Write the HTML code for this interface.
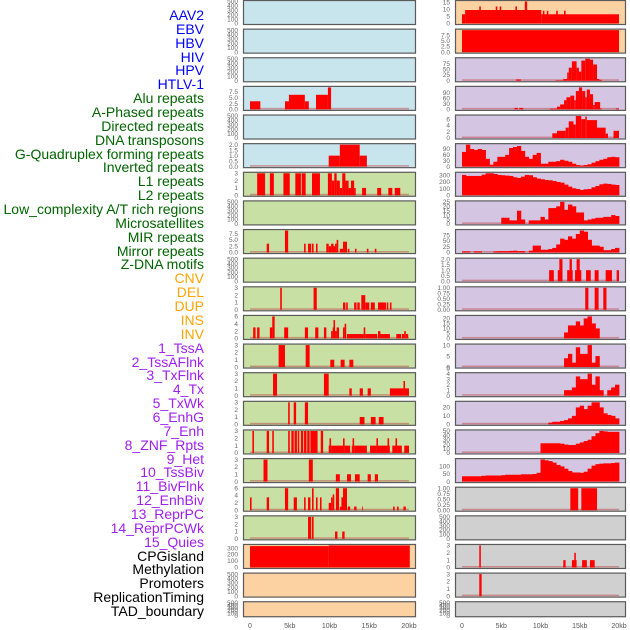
<!DOCTYPE html>
<html><head><meta charset="utf-8">
<style>
html,body{margin:0;padding:0;background:#fff;width:630px;height:630px;overflow:hidden}
#lbls{position:absolute;left:0;top:0;width:204px;height:630px}
.lb{position:absolute;right:0;font-family:"Liberation Sans",Arial,sans-serif;font-size:14px;line-height:14px;white-space:nowrap}
svg{position:absolute;left:0;top:0}
</style></head><body>
<div id="lbls"></div>
<svg id="chart" width="630" height="630"></svg>
<script>
const panelNames=["AAV2","EBV","HBV","HIV","HPV","HTLV-1","Alu repeats","A-Phased repeats","Directed repeats","DNA transposons","G-Quadruplex forming repeats","Inverted repeats","L1 repeats","L2 repeats","Low_complexity A/T rich regions","Microsatellites","MIR repeats","Mirror repeats","Z-DNA motifs","CNV","DEL","DUP","INS","INV","1_TssA","2_TssAFlnk","3_TxFlnk","4_Tx","5_TxWk","6_EnhG","7_Enh","8_ZNF_Rpts","9_Het","10_TssBiv","11_BivFlnk","12_EnhBiv","13_ReprPC","14_ReprPCWk","15_Quies","CPGisland","Methylation","Promoters","ReplicationTiming","TAD_boundary"];
const panelGroups=["virus","virus","virus","virus","virus","virus","repeat","repeat","repeat","repeat","repeat","repeat","repeat","repeat","repeat","repeat","repeat","repeat","repeat","sv","sv","sv","sv","sv","chrom","chrom","chrom","chrom","chrom","chrom","chrom","chrom","chrom","chrom","chrom","chrom","chrom","chrom","chrom","other","other","other","other","other"];
const E=["0","100","200","300","400","500"], T3=["0","1","2","3"], T6=["0","2","4","6"], T25=["0.0","2.5","5.0","7.5"], Tq=["0.00","0.25","0.50","0.75","1.00"];
const panelTicks=[E,E,E,T25,E,["0.0","0.5","1.0","1.5","2.0"],T3,E,T25,E,T3,T6,T3,T3,T3,T3,T3,T6,T3,["0","100","200","300"],E,E,
["0","5","10","15"],T25,["0","25","50","75"],["0","30","60","90"],T6,["0","30","60","90"],["0","100","200","300"],["0","5","10","15","20","25"],["0","25","50","75"],["0.0","0.5","1.0","1.5","2.0"],Tq,["0","5","10","15","20"],["0","5","10"],["0","1","2","3","4","5"],["0","10","20"],["0","10","20","30","40","50"],["0","50","100"],Tq,E,T3,T3,E];
const panelSegments=[null,null,null,
[[0,1.3,3.5],[4.4,4.9,3.5],[4.9,6.9,6.3],[6.9,7.4,3.5],[8.3,9.8,6.3],[9.8,10.2,9.5]],
null,
[[9.9,11.3,1],[11.3,13.8,2],[13.8,14.7,1]],
[[0.9,1.9,3],[2.5,3.0,3],[4.2,5.0,3],[5.7,6.4,3],[6.5,7.0,3],[7.8,8.8,3],[9.8,10.3,3],[10.3,10.6,2],[10.6,10.9,3],[10.9,11.3,2],[11.3,11.6,1],[11.6,12.0,3],[12.0,12.4,2],[12.4,12.7,1],[12.7,13.1,2],[13.1,13.3,1],[14.1,14.6,1],[16.0,16.5,1],[17.4,17.9,1],[18.2,18.9,1]],
null,
[[2.1,2.4,3.5],[4.4,4.8,8.7],[6.8,7.0,3.5],[7.3,7.7,3.5],[7.8,8.0,3.5],[8.3,8.5,3.5],[9.6,9.9,3.5],[9.9,10.2,2.5],[10.2,10.5,3.5],[10.5,10.7,2.5],[10.7,10.9,3.5],[10.9,11.1,5],[11.3,11.7,1.5],[11.7,12.2,4.3],[12.3,12.5,1.5],[13.2,13.4,1.5],[14.7,14.9,1.5],[15.7,15.9,1.5]],
null,
[[3.8,4.0,3],[8.0,8.4,3],[11.7,12.0,1],[12.1,12.3,1],[13.1,13.4,1],[13.5,13.8,1],[14.0,14.5,2],[14.5,15.0,1],[15.2,15.7,1],[16.1,17.1,1],[17.2,17.4,1],[17.6,17.8,1]],
[[0.4,0.7,3],[0.9,1.2,3],[2.5,2.8,3],[2.8,3.1,6],[4.3,4.8,3],[6.9,7.3,3],[8.2,8.6,3],[9.3,9.6,3],[10.2,10.4,2],[10.4,10.5,3],[10.5,10.7,5],[10.7,10.9,2],[10.9,11.2,3],[11.7,11.9,3],[11.9,12.1,4],[12.2,14.3,1.2],[14.3,14.5,3],[14.5,16.0,1.2],[16.1,16.4,2],[16.4,17.6,1.2],[18.4,19.0,1.2],[19.1,19.4,1.2],[19.4,19.6,2],[19.6,19.9,1.2]],
[[3.6,4.4,3],[7.0,7.5,3],[10.1,10.6,1],[11.4,11.9,1],[12.5,13.0,1]],
[[2.9,3.4,3],[9.3,9.9,3],[12.5,12.8,1],[13.8,14.2,1],[14.8,15.2,1],[17.6,19.3,1],[19.3,19.5,2],[19.5,20.0,1]],
[[4.8,5.0,3],[5.5,5.8,3],[6.9,7.3,3],[13.8,14.4,1],[15.2,15.8,1],[16.2,16.8,1]],
[[0.3,0.5,3],[2.1,2.4,3],[2.8,3.0,3],[4.8,5.0,3],[5.2,5.5,3],[5.6,5.9,3],[6.0,6.2,3],[6.4,6.7,3],[6.8,7.1,3],[7.2,7.5,3],[7.6,8.5,3],[8.9,9.2,3],[9.9,10.0,1],[10.0,10.2,2],[10.2,11.7,1],[11.7,11.9,2],[11.9,12.6,1],[12.8,12.9,1],[12.9,13.1,2],[13.1,14.7,1],[15.1,15.9,1],[15.9,16.1,2],[16.1,17.3,1],[17.3,17.5,2],[17.5,17.6,1],[17.9,18.3,1],[18.3,18.5,2],[18.5,19.1,1],[19.4,20.0,1]],
[[1.7,2.2,3],[7.4,7.9,3],[10.8,11.3,1],[12.2,12.7,1],[13.2,13.8,1],[14.8,15.2,1],[15.7,16.1,1]],
[[0,0.2,3.5],[2.1,2.4,3.5],[4.4,4.8,6],[5.5,5.9,3.5],[6.8,7.0,3.5],[7.3,7.6,3.5],[7.8,8.0,6],[8.3,8.5,3.5],[8.8,9.0,3.5],[9.9,10.2,2],[10.2,10.4,3.5],[10.4,10.6,4.3],[10.8,11.2,6],[11.3,11.5,1],[11.5,11.7,3.5],[11.7,12.2,6],[12.3,12.6,1],[13.1,13.4,1],[14.1,14.2,1],[18.0,18.2,1],[18.5,18.7,1],[19.3,19.6,1]],
[[7.3,7.7,3],[7.8,8.0,3],[10.7,11.0,1],[11.6,11.9,1]],
[[0,9.9,330],[9.9,20.1,340]],
null,null,
[[0,0.4,6.5],[0.4,10.1,9.5],[10.1,20,6.5],[2.2,2.4,12],[4.3,4.5,12],[4.8,5.0,12],[6.8,7.0,12],[8.0,8.3,15.5],[10.3,10.5,9],[10.8,11.0,9],[12.0,12.2,9],[13.0,13.2,9]],
[[0,20,9.7]],
[[6.9,7.5,6],[11.9,12.4,2],[12.4,12.9,2],[12.9,13.4,8],[13.4,13.6,36],[13.6,14.0,57],[14.0,14.6,85],[14.6,14.9,57],[14.9,15.2,40],[15.2,15.7,88],[15.7,16.3,96],[16.3,16.7,92],[16.7,17.2,71],[17.2,17.5,8],[17.5,17.8,4]],
[[6.7,7.1,8],[7.3,7.8,8],[11.2,12.1,4],[12.1,12.5,15],[12.5,13.0,27],[13.0,13.3,50],[13.3,13.8,66],[13.8,14.3,75],[14.3,14.5,50],[14.5,14.9,100],[14.9,15.3,120],[15.3,15.7,100],[15.7,15.9,66],[15.9,16.3,108],[16.3,16.7,83],[16.7,16.9,24],[16.9,17.6,40],[17.6,17.8,5],[19.6,20,5]],
[[11.5,12.1,1.5],[12.1,13.2,2.3],[13.2,13.6,3.3],[13.6,14.2,5.3],[14.2,14.5,4.3],[14.5,15.2,7],[15.2,15.7,6],[15.7,15.9,6.8],[15.9,17.2,5.7],[17.2,18.3,3.3],[18.3,18.6,1.4],[19.3,20,2.3]],
null,null,null,null,
[[11.1,11.7,1],[12.2,12.8,1],[12.4,12.8,2],[13.4,14.1,1],[13.7,14.0,2],[14.4,15.2,1],[14.6,15.0,2],[15.8,16.4,1],[16.9,17.4,1],[18.3,19.1,1],[19.7,20,1]],
[[15.7,16.1,1],[16.9,17.4,1],[18.0,18.4,1]],
null,null,null,null,null,null,
[[13.8,14.8,1],[15.2,17.2,1]],
null,
[[2.2,2.4,3],[12.9,13.2,1],[14.0,14.6,1],[14.3,14.5,2],[15.3,15.9,1],[16.3,16.9,1]],
[[2.2,2.5,3]],
null];
const z=n=>Array(n).fill(0);
const binsTx=[75,112,90,85,90,85,40,10,25,50,50,60,95,100,105,80,50,40,60,70,15,15,25,25,28,35,30,25,15,8,5,8,12,20,28,35,40,48,50,48];
const binsTxWk=[305,290,290,290,290,310,330,330,320,305,300,295,290,270,260,280,305,300,270,250,240,230,225,215,200,190,160,130,105,95,80,90,95,120,140,165,175,170,160,155];
const binsEnhG=z(10).concat([7,7,4,4,15,5,0,4,4,4,8,5,18,18,20,25,16,22,20,13,13,4,5,6,7,7,8,8,10,9]);
const binsEnh=[5,5,0,5,5,0,0,0,5,6,6,6,7,8,6,6,0,8,30,30,12,12,15,20,35,60,55,70,60,80,95,90,55,30,30,25,10,10,15,20];
const binsTssBiv=z(26).concat([6,13,13,17,13,20,22,15,10],z(5));
const binsBivFlnk=z(26).concat([4,6,2,9,6,6,10,2,5],z(5));
const binsEnhBiv=z(26).concat([1,1,1.5,3.5,3,3,4,2,3.5,1,0,1,1.5,2]);
const binsReprPC=z(22).concat([2,3,3,4,5,7,10,20,22,18,22,26,26,20,13,11,10,7]);
const binsReprPCWk=z(20).concat([22,22,22,22,22,21,19,18,18,21,24,27,30,38,45,50,49,48,48,48]);
const binsQuies=[35,35,35,35,35,38,40,40,40,40,42,45,45,45,45,48,48,48,50,58,145,140,135,125,110,100,85,70,60,60,58,65,85,105,115,118,120,120,122,125];
const panelBins={27:binsTx,28:binsTxWk,29:binsEnhG,30:binsEnh,33:binsTssBiv,34:binsBivFlnk,35:binsEnhBiv,36:binsReprPC,37:binsReprPCWk,38:binsQuies};
const xTickLabels=["0","5kb","10kb","15kb","20kb"];
const xTickValues=[0,5,10,15,20];

const labelColors={virus:"#0000ff",repeat:"#006400",sv:"#ffa500",chrom:"#a020f0",other:"#000000"};
const bgColors={virus:"#c8e4ec",repeat:"#c8e0a4",sv:"#fdd2a2",chrom:"#d4c6e2",other:"#d0d0d0"};
const NS="http://www.w3.org/2000/svg";
const svg=document.getElementById('chart');
function mk(tag,attrs,parent){const e=document.createElementNS(NS,tag);for(const k in attrs)e.setAttribute(k,attrs[k]);(parent||svg).appendChild(e);return e;}

const lbls=document.getElementById('lbls');
panelNames.forEach((n,k)=>{
  const d=document.createElement('div');
  d.className='lb';
  d.textContent=n;
  d.style.top=(15+k*13.86-7)+'px';
  d.style.color=labelColors[panelGroups[k]];
  
  
  lbls.appendChild(d);
});

const cols=[{px0:243,px1:416,x0:250,x20:409,tickX:238},{px0:455,px1:626,x0:462,x20:619,tickX:450}];
function panelBox(row){const top=row*28.63;const h=row===21?16:25;return {top,h};}

for(let p=0;p<44;p++){
  const col=cols[p<22?0:1], row=p%22, g=panelGroups[p];
  const {top,h}=panelBox(row);
  const grp=mk('g',{});
  
  
  const bg=mk('rect',{x:col.px0+0.5,y:top+0.5,width:col.px1-col.px0-1,height:h-1,fill:bgColors[g],stroke:'#5a5a5a','stroke-width':1.2},grp);
  
  
  const ticks=panelTicks[p];
  const segs=panelSegments[p], bins=panelBins[p];
  let ymax=0;
  if(segs)segs.forEach(s=>{ymax=Math.max(ymax,s[2]);});
  if(bins)bins.forEach(v=>{ymax=Math.max(ymax,v);});
  const hasData=ymax>0;
  if(!hasData)ymax=parseFloat(ticks[ticks.length-1]);
  const yb=top+h-1.5, yt=top+1.5;
  const xs=kb=>col.x0+(col.x20-col.x0)*kb/20;
  const ys=v=>yb-(yb-yt)*v/ymax;
  if(hasData){
    const base=mk('rect',{x:xs(0),y:yb-1.5,width:xs(20)-xs(0),height:1.5,fill:'#c05050','fill-opacity':0.55},grp);
    
    
  }
  if(segs)segs.forEach(s=>{
    const r=mk('rect',{x:xs(s[0]),y:ys(s[2]),width:Math.max(0.8,xs(s[1])-xs(s[0])),height:yb-ys(s[2]),fill:'#ff0000'},grp);
    
    
  });
  if(bins)bins.forEach((v,i)=>{
    if(v<=0)return;
    const r=mk('rect',{x:xs(i*0.5),y:ys(v),width:xs(0.5)-xs(0)+0.4,height:yb-ys(v),fill:'#ff0000'},grp);
    
    
  });
  ticks.forEach(t=>{
    const tx=mk('text',{x:col.tickX,y:ys(parseFloat(t))+2.2,'text-anchor':'end','font-family':'Liberation Sans, sans-serif','font-size':6.5,fill:'#666'},grp);
    tx.textContent=t;
    
    
  });
}
cols.forEach((col,ci)=>{
  xTickValues.forEach((v,i)=>{
    const t=mk('text',{x:col.x0+(col.x20-col.x0)*v/20,y:628,'text-anchor':'middle','font-family':'Liberation Sans, sans-serif','font-size':7,fill:'#555'});
    t.textContent=xTickLabels[i];
    
    
  });
});
</script>
</body></html>
